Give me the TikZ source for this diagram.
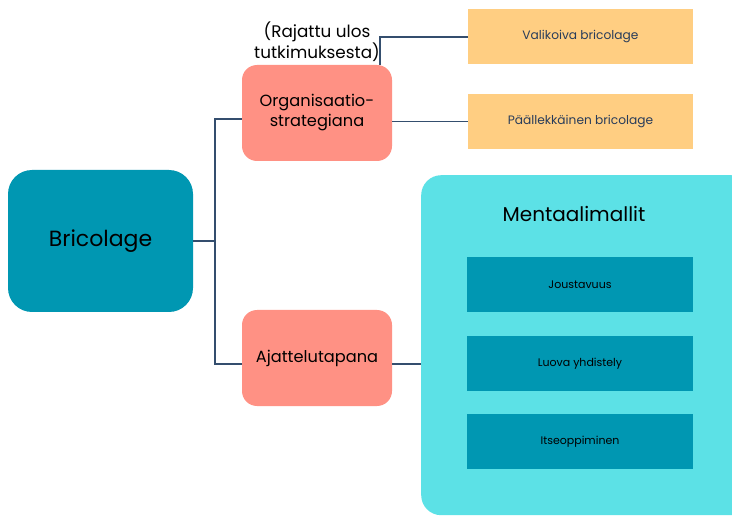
\documentclass[tikz,border=0pt]{standalone}
\usepackage{fontspec}
\setmainfont{Poppins}
\definecolor{teal1}{RGB}{0,151,178}
\definecolor{salmon}{RGB}{255,145,132}
\definecolor{peach}{RGB}{255,206,130}
\definecolor{cyanbg}{RGB}{92,225,230}
\definecolor{linec}{RGB}{52,78,110}
\definecolor{smalltxt}{RGB}{40,60,90}
\begin{document}
\begin{tikzpicture}[x=1pt,y=1pt,
  conn/.style={draw=linec,line width=1.1pt},
  bigbox/.style={fill=teal1,rounded corners=24pt,minimum width=185pt,minimum height=142pt,font=\fontsize{22}{26}\selectfont,text=black},
  midbox/.style={fill=salmon,rounded corners=15pt,minimum width=150pt,minimum height=96pt,font=\fontsize{16.2}{20}\selectfont,text=black,align=center},
  peachbox/.style={fill=peach,minimum width=225pt,minimum height=55pt,font=\fontsize{12.2}{14}\selectfont,text=smalltxt},
  tealbox/.style={fill=teal1,minimum width=226pt,minimum height=55pt,font=\fontsize{11}{13}\selectfont,text=black},
  lbl/.style={font=\fontsize{16.8}{19}\selectfont,align=center,text=black}]
\useasboundingbox (0,-516) rectangle (732,0);
\fill[white] (0,-516) rectangle (732,0);
% container
\node[fill=cyanbg,rounded corners=20pt,minimum width=330pt,minimum height=340pt,anchor=north west,inner sep=0pt] (cont) at (421,-175) {};
\node[font=\fontsize{20}{24}\selectfont,text=black] (mtitle) at (574,-214) {Mentaalimallit};
\node[tealbox] (jou) at (580,-285) {Joustavuus};
\node[tealbox] (luo) at (580,-363.5) {Luova yhdistely};
\node[tealbox] (its) at (580,-441.5) {Itseoppiminen};
% main
\node[bigbox] (bric) at (100.5,-241) {Bricolage};
\node[midbox] (org) at (317,-113) {Organisaatio-\\strategiana};
\node[midbox] (ajat) at (317,-358) {Ajattelutapana};
\node[peachbox] (val) at (580.5,-37) {Valikoiva bricolage};
\node[peachbox] (paa) at (580.5,-121.5) {Päällekkäinen bricolage};
\node[lbl] (rajattu) at (317,-42) {(Rajattu ulos\\tutkimuksesta)};
% connectors
\coordinate (jn) at (215,-241);
\draw[conn] (bric.east |- jn) -- (jn);
\draw[conn] (org.west |- 0,-119) -| (jn) |- (ajat.west |- 0,-364);
\draw[conn] (org.east |- paa) -- (paa.west);
\draw[conn] (org.north -| 380,0) |- (val.west);
\draw[conn] (ajat.east |- 0,-364) -- (cont.west |- 0,-364);
\end{tikzpicture}
\end{document}
